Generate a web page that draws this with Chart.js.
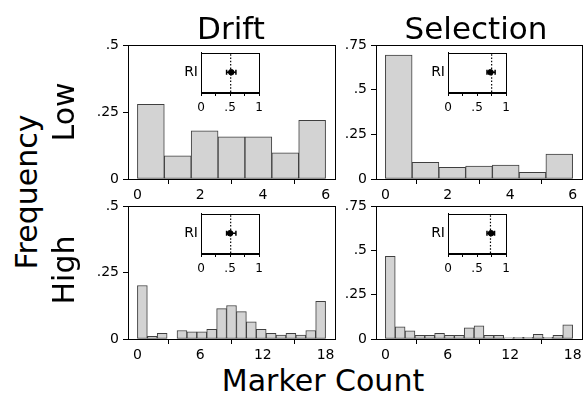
<!DOCTYPE html>
<html>
<head>
<meta charset="utf-8">
<script src="https://cdn.jsdelivr.net/npm/chart.js@4/dist/chart.umd.min.js"></script>
<style>
  body { margin: 0; background: #fff; }
  #wrap { position: relative; width: 588px; height: 398px; overflow: hidden; font-family: "DejaVu Sans", sans-serif; }
  canvas { position: absolute; }
  .lbl { position: absolute; font-size: 30px; line-height: 30px; white-space: nowrap; color: #000; }
  .h { transform: translateX(-50%); }
  .v { transform: translate(-50%, -50%) rotate(-90deg); }
</style>
</head>
<body>
<div id="wrap">
  <canvas id="tl" width="262" height="165" style="left:78px;top:35px"></canvas>
  <canvas id="tr" width="261" height="165" style="left:326px;top:35px"></canvas>
  <canvas id="bl" width="262" height="164" style="left:78px;top:196px"></canvas>
  <canvas id="br" width="261" height="164" style="left:326px;top:196px"></canvas>
  <canvas id="itl" width="93" height="68" style="left:175px;top:47px"></canvas>
  <canvas id="itr" width="93" height="68" style="left:422px;top:47px"></canvas>
  <canvas id="ibl" width="93" height="68" style="left:175px;top:208px"></canvas>
  <canvas id="ibr" width="93" height="68" style="left:422px;top:208px"></canvas>

  <div class="lbl h" style="left:231px;top:13px;font-size:31px">Drift</div>
  <div class="lbl h" style="left:476px;top:13px;font-size:31px">Selection</div>
  <div class="lbl v" style="left:27px;top:192px">Frequency</div>
  <div class="lbl v" style="left:64px;top:112px">Low</div>
  <div class="lbl v" style="left:64px;top:270px">High</div>
  <div class="lbl h" style="left:323px;top:366px">Marker Count</div>
</div>
<script>
// histogram heights (density)
const driftLow = [0.279, 0.086, 0.180, 0.157, 0.157, 0.098, 0.219];
const selLow = [0.694, 0.093, 0.065, 0.073, 0.078, 0.037, 0.140];
const driftHigh = [0.201, 0.010, 0.021, 0, 0.032, 0.027, 0.027, 0.036, 0.114, 0.126,
  0.103, 0.065, 0.036, 0.021, 0.015, 0.021, 0.015, 0.032, 0.142];
const selHigh = [0.466, 0.069, 0.046, 0.021, 0.021, 0.032, 0.021, 0.021, 0.063, 0.074,
  0.021, 0.021, 0.006, 0.010, 0.010, 0.026, 0.010, 0.021, 0.080];

// tick labels
const lowXTicks = [0, 2, 4, 6];
const highXTicks = [0, 6, 12, 18];
const yTicksHalf = [0, 0.25, 0.5];
const yTicksThreeQ = [0, 0.25, 0.5, 0.75];
const riTicks = [0, 0.25, 0.5, 0.75, 1];

// RI insets: drift-low, selection-low, drift-high, selection-high
const riRef = [0.51, 0.75, 0.51, 0.73];
const riMean = [0.52, 0.73, 0.50, 0.74];
const riLo = [0.44, 0.67, 0.44, 0.67];
const riHi = [0.60, 0.81, 0.60, 0.80];

const FONT = 'DejaVu Sans';

function fmt(v) {
  if (v === 0) return '0';
  return String(v).replace(/^0/, '');
}

// fixed axis width, and no extra room asked for the end labels
function fixY(w) {
  return s => { s.width = w; s.paddingTop = 0; s.paddingBottom = 0; };
}

// draws the full frame around the plot area, like matplotlib spines
const boxPlugin = {
  id: 'box',
  beforeDraw(chart) {
    const a = chart.chartArea, c = chart.ctx;
    c.save();
    c.fillStyle = '#fff';
    c.fillRect(a.left, a.top, a.right - a.left, a.bottom - a.top);
    c.restore();
  },
  afterDatasetsDraw(chart) {
    const a = chart.chartArea, c = chart.ctx;
    c.save();
    c.strokeStyle = '#000';
    c.lineWidth = 1;
    c.strokeRect(Math.round(a.left) + 0.5, Math.round(a.top) + 0.5,
      Math.round(a.right - a.left), Math.round(a.bottom - a.top));
    c.restore();
  }
};

function histChart(id, values, lo, hi, yMax, yTicks, xTicks) {
  const w = (hi - lo) / values.length;
  const pts = values.map((v, i) => ({ x: lo + w * (i + 0.5), y: v }));
  const pad = (hi - lo) * 0.05;
  new Chart(document.getElementById(id), {
    type: 'bar',
    data: {
      datasets: [{
        data: pts,
        backgroundColor: '#d3d3d3',
        borderColor: '#3f3f3f',
        borderWidth: 1,
        borderSkipped: false,
        barPercentage: 1,
        categoryPercentage: 1
      }]
    },
    options: {
      responsive: false,
      animation: false,
      devicePixelRatio: 1,
      layout: { padding: { top: 10, right: 5, left: 0, bottom: 0 } },
      plugins: { legend: { display: false }, tooltip: { enabled: false } },
      scales: {
        x: {
          type: 'linear',
          offset: false,
          min: lo - pad,
          max: hi + pad,
          afterBuildTicks: s => { s.ticks = xTicks.map(v => ({ value: v })); },
          afterFit: s => { s.height = 21; },
          ticks: { font: { family: FONT, size: 14 }, color: '#000', padding: 3, maxRotation: 0,
            callback: v => fmt(v) },
          grid: { drawOnChartArea: false, tickLength: 5, color: '#000' },
          border: { color: '#000' }
        },
        y: {
          min: 0,
          max: yMax,
          afterBuildTicks: s => { s.ticks = yTicks.map(v => ({ value: v })); },
          afterFit: fixY(50),
          ticks: { font: { family: FONT, size: 14 }, color: '#000', padding: 4,
            callback: v => fmt(v) },
          grid: { drawOnChartArea: false, tickLength: 5, color: '#000' },
          border: { color: '#000' }
        }
      }
    },
    plugins: [boxPlugin]
  });
}

function riChart(id, k) {
  new Chart(document.getElementById(id), {
    type: 'scatter',
    data: {
      datasets: [
        {
          data: [{ x: riRef[k], y: 0 }, { x: riRef[k], y: 1 }],
          showLine: true, borderColor: '#000', borderWidth: 1.2, borderDash: [1.5, 1.8],
          pointRadius: 0
        },
        {
          data: [{ x: riLo[k], y: 0.5 }, { x: riHi[k], y: 0.5 }],
          showLine: true, borderColor: '#000', borderWidth: 1.6,
          pointStyle: 'line', rotation: 90, pointRadius: 2.5, pointBorderWidth: 1.5,
          pointBorderColor: '#000'
        },
        {
          data: [{ x: riMean[k], y: 0.5 }],
          pointRadius: 2.8, backgroundColor: '#000', borderColor: '#000'
        }
      ]
    },
    options: {
      responsive: false,
      animation: false,
      devicePixelRatio: 1,
      layout: { padding: { top: 5, right: 5, left: 0, bottom: 0 } },
      plugins: { legend: { display: false }, tooltip: { enabled: false } },
      scales: {
        x: {
          type: 'linear',
          min: 0,
          max: 1,
          afterBuildTicks: s => { s.ticks = riTicks.map(v => ({ value: v })); },
          afterFit: s => { s.height = 23; },
          ticks: { font: { family: FONT, size: 12 }, color: '#000', padding: 5, maxRotation: 0,
            autoSkip: false,
            callback: v => (v === 0.25 || v === 0.75) ? '' : fmt(v) },
          grid: { drawOnChartArea: false, tickLength: 4, color: '#000' },
          border: { color: '#000' }
        },
        y: {
          min: 0,
          max: 1,
          afterBuildTicks: s => { s.ticks = [{ value: 0.5 }]; },
          afterFit: fixY(26),
          ticks: { font: { family: FONT, size: 14 }, color: '#000', padding: 3,
            callback: () => 'RI' },
          grid: { display: false, drawTicks: false, tickLength: 0 },
          border: { color: '#000' }
        }
      }
    },
    plugins: [boxPlugin]
  });
}

histChart('tl', driftLow, 0, 6, 0.5, yTicksHalf, lowXTicks);
histChart('tr', selLow, 0, 6, 0.75, yTicksThreeQ, lowXTicks);
histChart('bl', driftHigh, 0, 18, 0.5, yTicksHalf, highXTicks);
histChart('br', selHigh, 0, 18, 0.75, yTicksThreeQ, highXTicks);

riChart('itl', 0);
riChart('itr', 1);
riChart('ibl', 2);
riChart('ibr', 3);
</script>
</body>
</html>
